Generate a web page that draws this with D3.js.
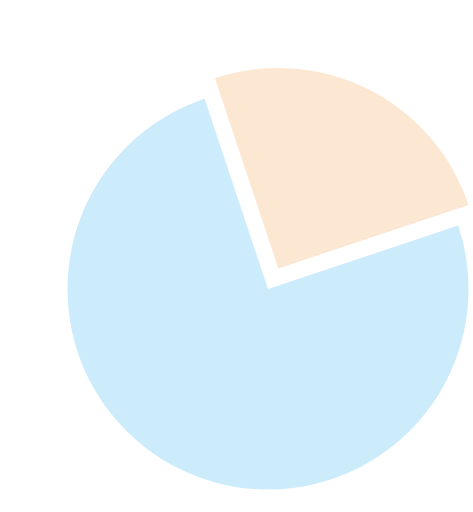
<!DOCTYPE html>
<html>
<head>
<meta charset="utf-8">
<script src="https://cdn.jsdelivr.net/npm/d3@7"></script>
<style>
html,body{margin:0;padding:0;background:#fff;}
svg{display:block;}
</style>
</head>
<body>
<svg id="chart" width="473" height="512"></svg>
<script>
const categories = ["A", "B"];
const values = [25, 75];
const colors = ["#fce7d3", "#ccebfb"];
const exploded = [true, false];

const width = 473, height = 512;
const cx = 268, cy = 289, radius = 200.5, offset = 23;
const startDeg = -18.43;

const svg = d3.select("#chart");
const g = svg.append("g").attr("transform", `translate(${cx},${cy})`);

const pie = d3.pie().sort(null).value(d => d.value)
  .startAngle(startDeg * Math.PI / 180)
  .endAngle(startDeg * Math.PI / 180 + 2 * Math.PI);
const arc = d3.arc().innerRadius(0).outerRadius(radius);

const data = categories.map((c, i) => ({ cat: c, value: values[i], color: colors[i], ex: exploded[i] }));

g.selectAll("path")
  .data(pie(data))
  .join("path")
  .attr("d", arc)
  .attr("fill", d => d.data.color)
  .attr("transform", d => {
    if (!d.data.ex) return null;
    const mid = (d.startAngle + d.endAngle) / 2;
    return `translate(${Math.sin(mid) * offset},${-Math.cos(mid) * offset})`;
  });
</script>
</body>
</html>
